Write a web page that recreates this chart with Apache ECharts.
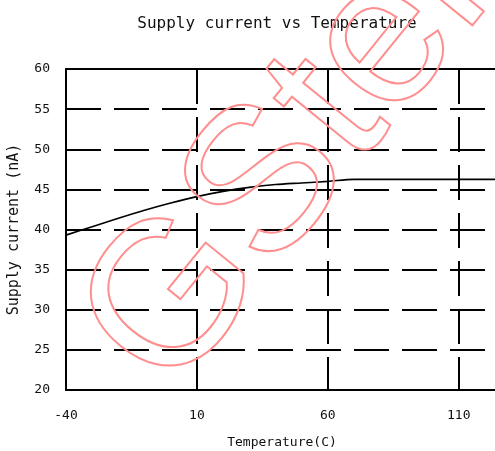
<!DOCTYPE html>
<html>
<head>
<meta charset="utf-8">
<script src="https://cdn.jsdelivr.net/npm/echarts@6/dist/echarts.min.js"></script>
<style>
html,body{margin:0;padding:0;background:#fff;}
#chart{width:495px;height:451px;}
</style>
</head>
<body>
<div id="chart"></div>
<script>
const titleText = 'Supply current vs Temperature';
const xName = 'Temperature(C)';
const yName = 'Supply current (nA)';
const xTicks = [-40, 10, 60, 110];
const yTicks = [20, 25, 30, 35, 40, 45, 50, 55, 60];
const temps = [-40, -30, -20, -10, 0, 10, 20, 30, 40, 50, 60, 70, 80, 90, 100, 110, 120, 125];
const current = [39.3, 40.35, 41.4, 42.4, 43.3, 44.1, 44.75, 45.25, 45.6, 45.8, 46.0, 46.25, 46.25, 46.25, 46.25, 46.25, 46.25, 46.25];
const watermark = 'GStek';

const chart = echarts.init(document.getElementById('chart'), null, {renderer: 'canvas'});
const mono = '"DejaVu Sans Mono", "Liberation Mono", monospace';
const dash = [35, 13];

chart.setOption({
  animation: false,
  backgroundColor: '#fff',
  title: {
    text: titleText,
    left: 272, top: 11,
    textAlign: 'center',
    textStyle: {fontFamily: mono, fontSize: 16, fontWeight: 'normal', color: '#111'}
  },
  grid: {
    left: 66, top: 69, bottom: 61, right: -3,
    outerBoundsMode: 'none',
    containLabel: false,
    show: true, borderColor: '#000', borderWidth: 2
  },
  xAxis: {
    type: 'value', min: -40, max: 125, interval: 50,
    name: xName, nameLocation: 'middle', nameGap: 46,
    nameTextStyle: {fontFamily: mono, fontSize: 13, color: '#111'},
    axisLine: {show: true, onZero: false, lineStyle: {color: '#000', width: 2}},
    axisTick: {show: false},
    axisLabel: {
      margin: 19, fontFamily: mono, fontSize: 13, color: '#111',
      showMaxLabel: false,
      formatter: v => xTicks.includes(v) ? String(v) : ''
    },
    splitLine: {show: true, lineStyle: {color: '#000', width: 2, type: dash}}
  },
  yAxis: {
    type: 'value', min: 20, max: 60, interval: 5,
    name: yName, nameLocation: 'middle', nameGap: 44, nameRotate: 90,
    nameTextStyle: {fontFamily: mono, fontSize: 15, color: '#111'},
    axisLine: {show: true, onZero: false, lineStyle: {color: '#000', width: 2}},
    axisTick: {show: false},
    axisLabel: {
      margin: 16, fontFamily: mono, fontSize: 13, color: '#111',
      formatter: v => yTicks.includes(v) ? String(v) : ''
    },
    splitLine: {show: true, lineStyle: {color: '#000', width: 2, type: dash}}
  },
  series: [{
    type: 'line',
    data: temps.map((t, i) => [t, current[i]]),
    showSymbol: false,
    smooth: 0.3,
    lineStyle: {color: '#000', width: 1.6},
    z: 5
  }],
  graphic: [{
    type: 'text',
    x: 305, y: 142,
    rotation: 51 * Math.PI / 180,
    z: 100,
    style: {
      text: watermark,
      font: '205px "Liberation Sans", Arial, sans-serif',
      fill: 'rgba(0,0,0,0)',
      stroke: '#ff8f8f',
      lineWidth: 2,
      align: 'center', verticalAlign: 'middle',
      textAlign: 'center', textVerticalAlign: 'middle'
    }
  }]
});
</script>
</body>
</html>
